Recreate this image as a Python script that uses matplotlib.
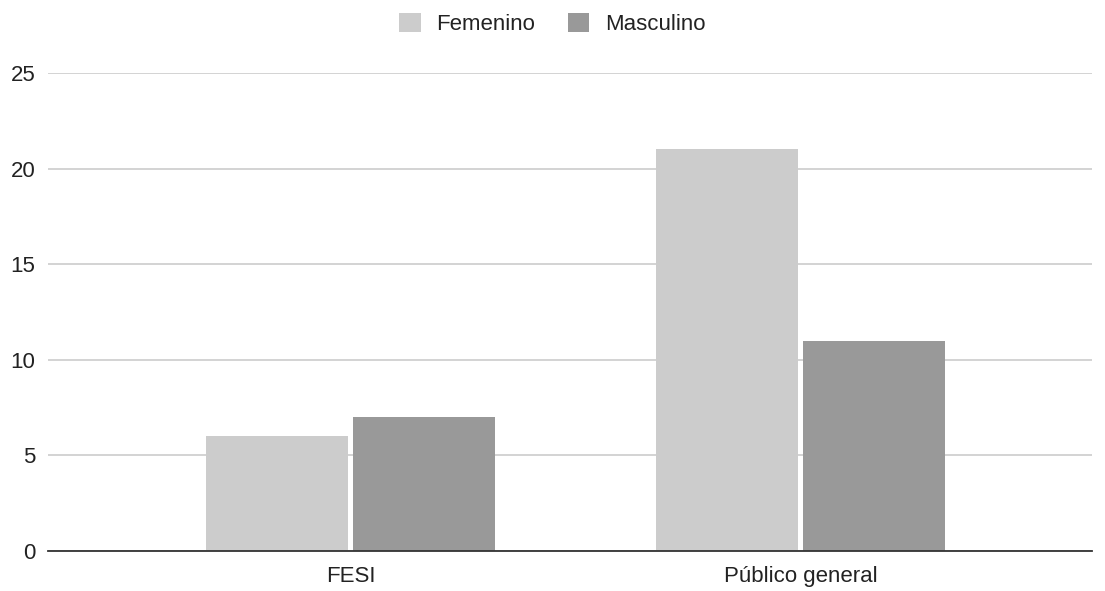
import matplotlib
matplotlib.use("Agg")
import matplotlib.pyplot as plt
import numpy as np

plt.rcParams['font.family'] = ['Liberation Sans', 'DejaVu Sans']

# --- data ---
categories = ["FESI", "Público general"]
femenino = [6, 21]
masculino = [7, 11]
series_names = ["Femenino", "Masculino"]
y_ticks = [0, 5, 10, 15, 20, 25]

fig = plt.figure(figsize=(11.05, 5.91), dpi=100)
ax = fig.add_axes([0.0434, 0.0677, 0.9446, 0.8088])

x = np.arange(len(categories))
w = 0.315
gap = 0.0055
ax.bar(x - w / 2 - gap, femenino, width=w, color="#cccccc", label=series_names[0], zorder=3)
ax.bar(x + w / 2 + gap, masculino, width=w, color="#999999", label=series_names[1], zorder=3)

ax.set_xlim(-0.672, 1.647)
ax.set_ylim(0, 25)
ax.set_yticks(y_ticks)
ax.set_xticks(x)
ax.set_xticklabels(categories)
ax.tick_params(axis="both", length=0, labelsize=16, colors="#222222")
ax.tick_params(axis="y", pad=9)
ax.tick_params(axis="x", pad=11)

ax.grid(axis="y", color="#cccccc", linewidth=1.2, zorder=0)
for s in ["top", "right", "left"]:
    ax.spines[s].set_visible(False)
ax.spines["bottom"].set_color("#333333")
ax.spines["bottom"].set_linewidth(1.3)
ax.spines["bottom"].set_zorder(4)

fig.legend(loc="upper center", bbox_to_anchor=(0.5, 1.012), ncol=2, frameon=False,
           fontsize=16, handlelength=0.95, handleheight=0.95, handletextpad=0.7,
           columnspacing=1.5, labelcolor="#222222")

fig.savefig("out.png", dpi=100)
